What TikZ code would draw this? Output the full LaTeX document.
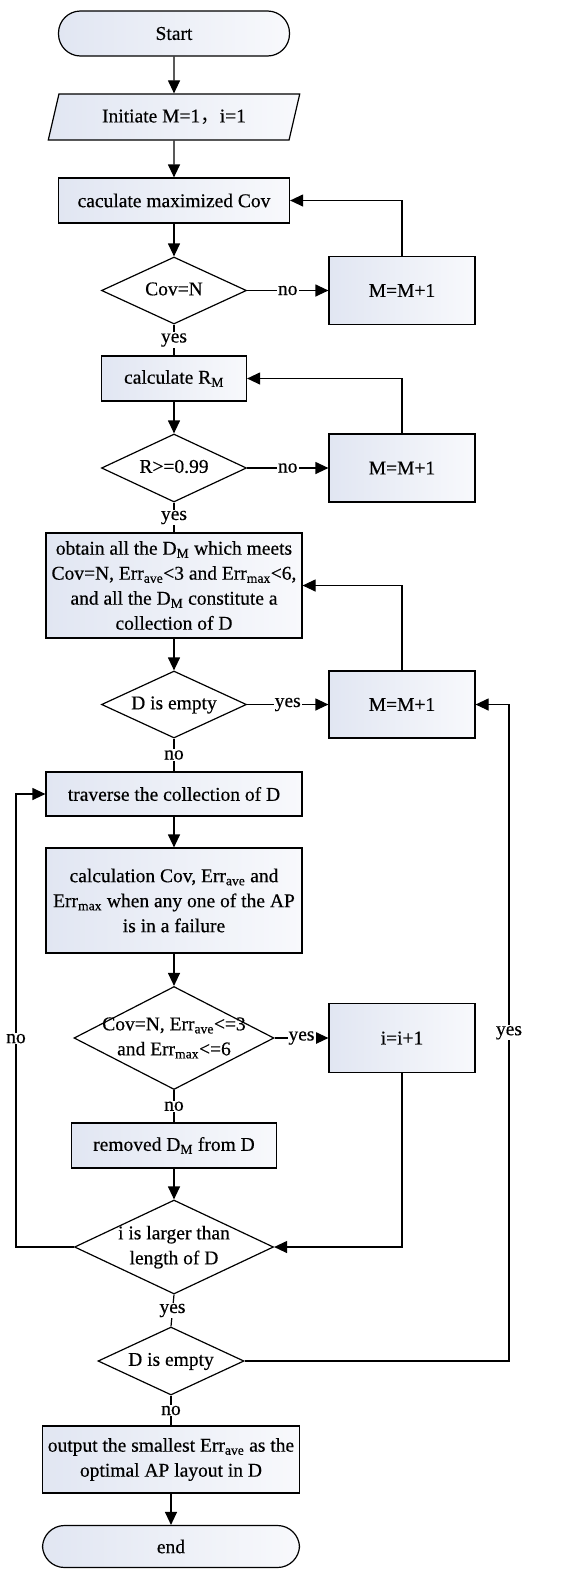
\documentclass[tikz,border=0pt]{standalone}
\usepackage{fontspec}
\setmainfont{Liberation Serif}[FakeBold=0.4]
\newfontfamily\cjk{Noto Sans CJK SC}
\usepackage{tikz}
\usetikzlibrary{arrows.meta, shapes.geometric}
\definecolor{boxleft}{HTML}{E1E6F2}
\definecolor{boxright}{HTML}{F8F9FC}
\newcommand{\dtxt}[1]{\smash{\makebox[0pt]{\raisebox{-5pt}{\begin{tabular}{@{}c@{}}#1\end{tabular}}}}}

\begin{document}
\begin{tikzpicture}[x=1pt, y=-1pt, line width=1.2pt,
    font=\fontsize{19.5}{25}\selectfont,
    box/.style={draw, left color=boxleft, right color=boxright, inner sep=0pt, align=center},
    term/.style={box, rounded corners=22pt},
    dec/.style={draw, diamond, fill=white, inner sep=0pt},
    lbl/.style={fill=white, inner sep=1pt},
    arr/.style={-{Triangle[length=13pt, width=12pt]}}]
    \useasboundingbox (0,0) rectangle (588,1569);

    \node[term, minimum width=231pt, minimum height=45pt] (start) at (174,33.5) {Start};
    \node[draw, trapezium, trapezium left angle=66, trapezium right angle=114, trapezium stretches=true,
        left color=boxleft, right color=boxright, inner sep=0pt,
        minimum width=252pt, minimum height=46pt] (init) at (174,117) {Initiate M=1{\cjk ，}i=1};
    \node[box, minimum width=231pt, minimum height=45pt] (cov) at (174,200.5) {caculate maximized Cov};
    \node[dec, minimum width=145pt, minimum height=67pt] (d1) at (174,290.5) {\dtxt{Cov=N}};
    \node[box, minimum width=146pt, minimum height=68pt] (m1) at (402,290.5) {M=M+1};
    \node[box, minimum width=145pt, minimum height=45pt] (rm) at (174,378.5) {calculate R\textsubscript{M}};
    \node[dec, minimum width=145pt, minimum height=68pt] (d2) at (174,468) {\dtxt{R>=0.99}};
    \node[box, minimum width=146pt, minimum height=68pt] (m2) at (402,468) {M=M+1};
    \node[box, minimum width=256pt, minimum height=105pt] (obt) at (174,585.5)
        {obtain all the D\textsubscript{M} which meets\\Cov=N, Err\textsubscript{ave}<3 and  Err\textsubscript{max}<6,\\and all the D\textsubscript{M} constitute a\\collection of D};
    \node[dec, minimum width=145pt, minimum height=67pt] (d3) at (174,704.5) {\dtxt{D is empty}};
    \node[box, minimum width=146pt, minimum height=67pt] (m3) at (402,704.5) {M=M+1};
    \node[box, minimum width=256pt, minimum height=44pt] (trav) at (174,794) {traverse the collection of D};
    \node[box, minimum width=256pt, minimum height=105pt] (calc) at (174,900.5)
        {calculation Cov, Err\textsubscript{ave} and\\Err\textsubscript{max} when any one of the AP\\is in a failure};
    \node[dec, minimum width=200pt, minimum height=103pt] (d4) at (174,1038)
        {\dtxt{Cov=N, Err\textsubscript{ave}<=3\\and Err\textsubscript{max}<=6}};
    \node[box, minimum width=146pt, minimum height=69pt] (inc) at (402,1038) {i=i+1};
    \node[box, minimum width=205pt, minimum height=45pt] (rem) at (174,1145.5) {removed D\textsubscript{M} from D};
    \node[dec, minimum width=199pt, minimum height=94pt] (d5) at (174,1247) {\dtxt{i is larger than\\length of D}};
    \node[dec, minimum width=146pt, minimum height=68pt] (d6) at (171,1361) {\dtxt{D is empty}};
    \node[box, minimum width=257pt, minimum height=67pt] (out) at (171,1459.5)
        {output the smallest Err\textsubscript{ave} as the\\optimal AP layout in D};
    \node[term, minimum width=257pt, minimum height=42pt] (end) at (171,1546.5) {end};

    \coordinate (lft) at (16,1247);
    \coordinate (rgt) at (509,1361);

    \draw[arr] (start) -- (init);
    \draw[arr] (init) -- (cov);
    \draw[arr] (cov) -- (d1);
    \draw[arr] (d1) -- node[lbl] {no} (m1);
    \draw[arr] (m1.north) |- (cov.east);
    \draw (d1) -- node[lbl] {yes} (rm);
    \draw[arr] (rm) -- (d2);
    \draw[arr] (d2) -- node[lbl] {no} (m2);
    \draw[arr] (m2.north) |- (rm.east);
    \draw (d2) -- node[lbl] {yes} (obt);
    \draw[arr] (obt) -- (d3);
    \draw[arr] (d3) -- node[lbl] {yes} (m3);
    \draw[arr] (m3.north) |- (obt.east);
    \draw (d3) -- node[lbl] {no} (trav);
    \draw[arr] (trav) -- (calc);
    \draw[arr] (calc) -- (d4);
    \draw[arr] (d4) -- node[lbl] {yes} (inc);
    \draw (d4) -- node[lbl] {no} (rem);
    \draw[arr] (rem) -- (d5);
    \draw[arr] (inc.south) |- (d5.east);
    \draw[arr] (d5.west) -- (lft) -- node[lbl, pos=0.46] {no} (lft |- trav.west) -- (trav.west);
    \draw (d5.south) -- node[lbl] {yes} (d6.north);
    \draw[arr] (d6.east) -- (rgt) -- node[lbl, pos=0.5] {yes} (rgt |- m3.east) -- (m3.east);
    \draw (d6) -- node[lbl] {no} (out);
    \draw[arr] (out) -- (end);
\end{tikzpicture}
\end{document}
